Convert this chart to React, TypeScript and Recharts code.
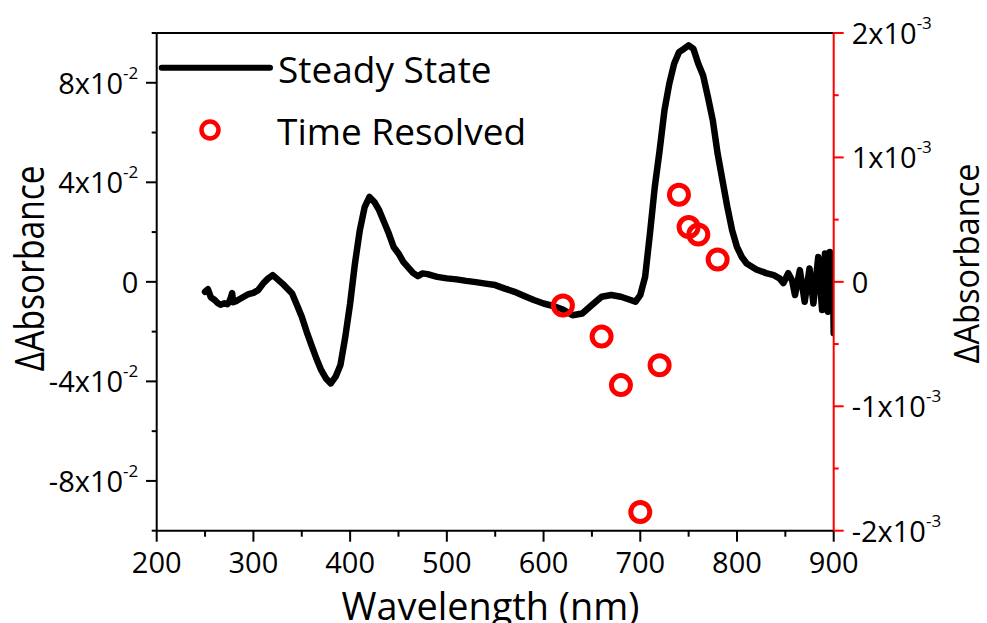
import {
  ComposedChart,
  Line,
  Scatter,
  XAxis,
  YAxis,
  Label,
  Legend,
  ReferenceLine,
} from "recharts";

// steady state spectrum (left axis)
const ssWavelength = [
  250, 253, 256, 260, 263, 266, 270, 273, 275, 277, 278, 279, 282, 285, 290, 295, 300, 305, 310, 315,
  320, 325, 330, 335, 340, 345, 350, 355, 360, 365, 370, 375, 380, 385, 390, 395, 400, 405, 410, 415,
  420, 425, 430, 435, 440, 445, 450, 455, 460, 465, 470, 475, 480, 490, 500, 510, 520, 530, 540, 550,
  560, 570, 580, 590, 600, 610, 620, 630, 640, 650, 660, 670, 680, 690, 695, 700, 705, 710, 715, 720,
  725, 730, 735, 740, 745, 750, 755, 760, 765, 770, 775, 780, 785, 790, 795, 800, 805, 810, 820, 830,
  838, 844, 848, 853, 857, 860, 865, 870, 875, 879, 884, 888, 891, 894, 896, 898, 899, 900,
];
const ssDelta = [
  -0.004, -0.003, -0.0062, -0.0073, -0.0085, -0.0092, -0.0086, -0.009, -0.008, -0.006, -0.0045, -0.0082,
  -0.0078, -0.0071, -0.006, -0.0049, -0.0044, -0.0033, -0.0007, 0.0013,
  0.0027, 0.001, -0.0007, -0.0027, -0.0047, -0.0093, -0.014, -0.02, -0.0254, -0.0307, -0.0354, -0.0388,
  -0.0408, -0.0381, -0.0334, -0.0221, -0.0087, 0.0074, 0.0207, 0.03,
  0.0341, 0.0321, 0.0288, 0.0241, 0.0194, 0.014, 0.0114, 0.008, 0.0058, 0.0036, 0.0023, 0.0034, 0.0031,
  0.002, 0.0014, 0.001, 0.0004, -0.0001, -0.0007, -0.0013,
  -0.0027, -0.004, -0.0057, -0.0073, -0.0087, -0.0097, -0.0111, -0.0134, -0.0127, -0.0093, -0.006,
  -0.0053, -0.006, -0.0073, -0.008, -0.0053, 0.002, 0.0194, 0.0381, 0.0528,
  0.0689, 0.0796, 0.0876, 0.0923, 0.0936, 0.095, 0.0936, 0.0876, 0.0829, 0.0742, 0.0649, 0.0515, 0.0408,
  0.0301, 0.0207, 0.014, 0.01, 0.0074, 0.005, 0.0035,
  0.0027, 0.0014, -0.0005, 0.0035, 0.0005, -0.0053, 0.0047, -0.008, 0.0054, -0.0087, 0.01, -0.0113,
  0.0114, -0.012, 0.012, -0.01, 0.008, -0.0206,
];

// time resolved points (right axis)
const trWavelength = [620, 660, 680, 700, 720, 740, 750, 760, 780];
const trDelta = [-0.00019, -0.00044, -0.00083, -0.00185, -0.00067, 0.0007, 0.00044, 0.00038, 0.00018];

const xTicks = [200, 250, 300, 350, 400, 450, 500, 550, 600, 650, 700, 750, 800, 850, 900];
const leftTicks = [-0.1, -0.08, -0.06, -0.04, -0.02, 0, 0.02, 0.04, 0.06, 0.08, 0.1];
const rightTicks = [-0.002, -0.0015, -0.001, -0.0005, 0, 0.0005, 0.001, 0.0015, 0.002];

const ssData = ssWavelength.map((wl, i) => ({ wl, dA: ssDelta[i] }));
const trData = trWavelength.map((wl, i) => ({ wl, tr: trDelta[i] }));

const FONT = "'Open Sans', 'Noto Sans', sans-serif";
const RED = "#ff0000";

const XTick = ({ x, y, payload }: any) => {
  const v = payload.value;
  const major = v % 100 === 0;
  return (
    <g>
      <line x1={x} x2={x} y1={y} y2={y + (major ? 11 : 6)} stroke="#000" strokeWidth={2} />
      {major && (
        <text x={x} y={y + 42.5} textAnchor="middle" fontFamily={FONT} fontSize={29} fill="#000">
          {v}
        </text>
      )}
    </g>
  );
};

const LeftTick = ({ x, y, payload }: any) => {
  const m = Math.round(payload.value * 100);
  const major = m % 4 === 0 && Math.abs(m) < 10;
  return (
    <g>
      <line x1={x} x2={x - (major ? 10.7 : 5)} y1={y} y2={y} stroke="#000" strokeWidth={2} />
      {major && (
        <text x={x - 18.4} y={y + 11} textAnchor="end" fontFamily={FONT} fontSize={29} fill="#000">
          {m === 0 ? (
            "0"
          ) : (
            <>
              {`${m}x10`}
              <tspan dy={-15} fontSize={17}>
                -2
              </tspan>
            </>
          )}
        </text>
      )}
    </g>
  );
};

const RightTick = ({ x, y, payload }: any) => {
  const m = payload.value * 1000;
  const major = Math.abs(m - Math.round(m)) < 1e-6;
  const n = Math.round(m);
  return (
    <g>
      <line x1={x} x2={x + (major ? 10 : 5)} y1={y} y2={y} stroke={RED} strokeWidth={2} />
      {major && (
        <text x={x + 18} y={y + 11} textAnchor="start" fontFamily={FONT} fontSize={29} fill="#000">
          {n === 0 ? (
            "0"
          ) : (
            <>
              {`${n}x10`}
              <tspan dy={-15} fontSize={17}>
                -3
              </tspan>
            </>
          )}
        </text>
      )}
    </g>
  );
};

const OpenCircle = ({ cx, cy }: any) => (
  <circle cx={cx} cy={cy} r={9.5} fill="none" stroke={RED} strokeWidth={5} />
);

const renderLegend = () => (
  <svg width={400} height={130}>
    <line x1={11.7} x2={120} y1={37.7} y2={37.7} stroke="#000" strokeWidth={6} strokeLinecap="round" />
    <text x={128} y={53.3} fontFamily={FONT} fontSize={37} fill="#000">
      Steady State
    </text>
    <circle cx={60} cy={100} r={8.5} fill="none" stroke={RED} strokeWidth={4.5} />
    <text x={127} y={115} fontFamily={FONT} fontSize={37} fill="#000">
      Time Resolved
    </text>
  </svg>
);

const App = () => {
  return (
    <div style={{ position: "absolute", left: 0, top: 0, background: "#fff" }}>
      <ComposedChart
        width={987}
        height={623}
        data={ssData}
        margin={{ top: 33, right: 3.3, bottom: 12.3, left: 6.7 }}
      >
        <XAxis
          dataKey="wl"
          type="number"
          domain={[200, 900]}
          ticks={xTicks}
          interval={0}
          allowDataOverflow
          height={80}
          tickSize={0}
          tickMargin={0}
          tickLine={false}
          axisLine={{ stroke: "#000", strokeWidth: 2 }}
          tick={<XTick />}
        >
          <Label
            content={() => (
              <text
                x={490.5}
                y={620}
                textAnchor="middle"
                fontFamily={FONT}
                fontSize={39}
                textLength={298}
                lengthAdjust="spacingAndGlyphs"
                fill="#000"
              >
                Wavelength (nm)
              </text>
            )}
          />
        </XAxis>
        <YAxis
          yAxisId="left"
          type="number"
          domain={[-0.1, 0.1]}
          ticks={leftTicks}
          interval={0}
          allowDataOverflow
          width={150}
          tickSize={0}
          tickMargin={0}
          tickLine={false}
          axisLine={{ stroke: "#000", strokeWidth: 2 }}
          tick={<LeftTick />}
        >
          <Label
            content={() => (
              <text
                x={44}
                y={268.3}
                transform="rotate(-90, 44, 268.3)"
                textAnchor="middle"
                fontFamily={FONT}
                fontSize={40}
                textLength={206}
                lengthAdjust="spacingAndGlyphs"
                fill="#000"
              >
                ΔAbsorbance
              </text>
            )}
          />
        </YAxis>
        <YAxis
          yAxisId="right"
          orientation="right"
          type="number"
          domain={[-0.002, 0.002]}
          ticks={rightTicks}
          interval={0}
          allowDataOverflow
          width={150}
          tickSize={0}
          tickMargin={0}
          tickLine={false}
          axisLine={{ stroke: RED, strokeWidth: 2 }}
          tick={<RightTick />}
        >
          <Label
            content={() => (
              <text
                x={979}
                y={263.4}
                transform="rotate(-90, 979, 263.4)"
                textAnchor="middle"
                fontFamily={FONT}
                fontSize={35}
                textLength={200}
                lengthAdjust="spacingAndGlyphs"
                fill="#000"
              >
                ΔAbsorbance
              </text>
            )}
          />
        </YAxis>
        <ReferenceLine yAxisId="left" y={0.1} stroke="#000" strokeWidth={2} />
        <Legend
          layout="horizontal"
          verticalAlign="middle"
          align="center"
          content={renderLegend}
          wrapperStyle={{ left: 150, top: 30, width: 400, height: 130 }}
        />
        <Line
          yAxisId="left"
          type="linear"
          dataKey="dA"
          name="Steady State"
          stroke="#000"
          strokeWidth={6.5}
          strokeLinejoin="round"
          strokeLinecap="round"
          dot={false}
          activeDot={false}
          isAnimationActive={false}
        />
        <Scatter
          yAxisId="right"
          data={trData}
          dataKey="tr"
          name="Time Resolved"
          shape={<OpenCircle />}
          isAnimationActive={false}
        />
      </ComposedChart>
    </div>
  );
};

export default App;
